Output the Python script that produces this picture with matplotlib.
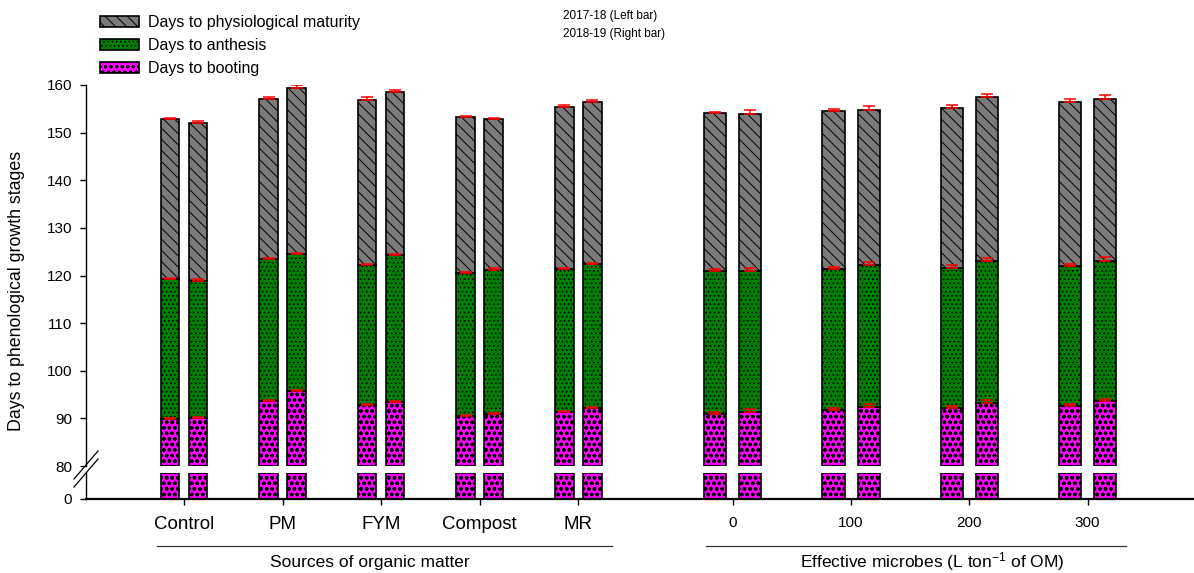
import numpy as np
import matplotlib
matplotlib.use("Agg")
import matplotlib.pyplot as plt
from matplotlib.patches import Patch
from matplotlib.lines import Line2D

plt.rcParams['font.family'] = ['Liberation Sans', 'DejaVu Sans']
plt.rcParams['mathtext.fontset'] = 'custom'
plt.rcParams['mathtext.rm'] = 'Liberation Sans'
plt.rcParams['mathtext.default'] = 'regular'
plt.rcParams['hatch.linewidth'] = 0.7

# categories
source_labels = ["Control", "PM", "FYM", "Compost", "MR"]
microbe_labels = ["0", "100", "200", "300"]

# cumulative days (top of each stacked segment), left bar = 2017-18, right bar = 2018-19
boot_1718 = [89.9, 93.6, 92.9, 90.5, 91.3, 90.9, 91.75, 92.2, 92.65]
boot_1819 = [90.1, 95.7, 93.5, 90.9, 92.2, 91.3, 92.45, 93.3, 93.6]
anth_1718 = [119.2, 123.5, 122.2, 120.6, 121.4, 120.9, 121.4, 121.6, 122.05]
anth_1819 = [118.9, 124.5, 124.4, 121.2, 122.35, 120.9, 122.2, 123.0, 123.1]
mat_1718 = [152.9, 157.0, 156.9, 153.3, 155.3, 154.2, 154.5, 155.2, 156.4]
mat_1819 = [152.0, 159.4, 158.5, 152.9, 156.5, 154.0, 154.7, 157.5, 157.1]

# standard errors
boot_err_1718 = [0.2, 0.2, 0.2, 0.2, 0.2, 0.4, 0.4, 0.5, 0.35]
boot_err_1819 = [0.2, 0.2, 0.2, 0.3, 0.2, 0.6, 0.5, 0.55, 0.4]
anth_err_1718 = [0.2, 0.2, 0.2, 0.2, 0.2, 0.4, 0.4, 0.5, 0.4]
anth_err_1819 = [0.3, 0.2, 0.2, 0.3, 0.3, 0.6, 0.7, 0.6, 0.7]
mat_err_1718 = [0.2, 0.4, 0.5, 0.15, 0.4, 0.2, 0.5, 0.5, 0.6]
mat_err_1819 = [0.5, 0.55, 0.5, 0.2, 0.4, 0.7, 0.8, 0.7, 0.9]

W, H = 1194, 573
fig = plt.figure(figsize=(W / 100, H / 100), dpi=100)

def box(x0, y0, x1, y1):
    # pixel box (top-left origin) -> figure fraction
    return [x0 / W, 1 - y1 / H, (x1 - x0) / W, (y1 - y0) / H]

ax = fig.add_axes(box(86, 85, 1194, 466))
axb = fig.add_axes(box(86, 473, 1194, 499))

# x positions: sources spaced 1, microbes spaced 1.2 after a gap
xs = np.concatenate([np.arange(5), 5.57 + 1.2 * np.arange(4)])
width = np.array([0.19] * 5 + [0.225] * 4)
off = np.array([0.142] * 5 + [0.178] * 4)

mat_style = dict(color="#7a7a7a", edgecolor="black", hatch="\\\\\\", linewidth=1.2)
anth_style = dict(color="#008000", edgecolor="black", hatch="....", linewidth=1.2)
boot_style = dict(color="#FF00FF", edgecolor="black", hatch="ooo", linewidth=1.2)
boot_hatch_lw = 1.0

low_lo, low_hi = 80, 160
stub_top = 5

series = [
    (-off, boot_1718, anth_1718, mat_1718, boot_err_1718, anth_err_1718, mat_err_1718),
    (off, boot_1819, anth_1819, mat_1819, boot_err_1819, anth_err_1819, mat_err_1819),
]
for sign_off, boot, anth, mat, be, ae, me in series:
    x = xs + sign_off
    boot = np.array(boot); anth = np.array(anth); mat = np.array(mat)
    with plt.rc_context({'hatch.linewidth': boot_hatch_lw}):
        ax.bar(x, boot - low_lo, width, bottom=low_lo, **boot_style)
        axb.bar(x, np.minimum(boot, stub_top), width, **boot_style)
    ax.bar(x, anth - boot, width, bottom=boot, **anth_style)
    ax.bar(x, mat - anth, width, bottom=anth, **mat_style)
    for top, err in [(boot, be), (anth, ae), (mat, me)]:
        ax.errorbar(x, top, yerr=[np.zeros(len(err)), err], fmt="none",
                    ecolor="red", elinewidth=1.1, capsize=4.5, capthick=1.1)

ax.set_ylim(low_lo, low_hi)
ax.set_yticks(np.arange(80, 161, 10))
axb.set_ylim(0, stub_top)
axb.set_yticks([0])
for a in (ax, axb):
    a.set_xlim(-0.995, 10.25)
    a.spines['top'].set_visible(False)
    a.spines['right'].set_visible(False)
    a.tick_params(axis='y', direction='out', length=4, width=1, labelsize=11, pad=6)
ax.spines['bottom'].set_visible(False)
ax.tick_params(axis='x', bottom=False, labelbottom=False)
ax.spines['left'].set_linewidth(1.0)
axb.spines['left'].set_linewidth(1.0)
axb.spines['bottom'].set_linewidth(1.6)

axb.set_xticks(xs)
axb.set_xticklabels(source_labels + microbe_labels)
axb.tick_params(axis='x', direction='out', length=4, width=1, pad=8)
for lab, size in zip(axb.get_xticklabels(), [13.5] * 5 + [11] * 4):
    lab.set_fontsize(size)

fig.text(17 / W, 1 - 291 / H, "Days to phenological growth stages", rotation=90,
         ha='center', va='center', fontsize=12.8)

# axis break marks
for dy in (0, 8):
    fig.add_artist(Line2D([74 / W, 98 / W], [1 - (487 - dy) / H, 1 - (459 - dy) / H],
                          color="black", linewidth=0.9))

# group underlines and labels
fig.add_artist(Line2D([157 / W, 612 / W], [1 - 546 / H] * 2, color="#333333", linewidth=0.9))
fig.add_artist(Line2D([706 / W, 1126 / W], [1 - 546 / H] * 2, color="#333333", linewidth=0.9))
fig.text(370 / W, 1 - 562 / H, "Sources of organic matter", ha='center', va='center', fontsize=12.5)
fig.text(932 / W, 1 - 562 / H, "Effective microbes (L ton$^{-1}$ of OM)", ha='center',
         va='center', fontsize=12.5)

fig.text(563 / W, 1 - 16 / H, "2017-18 (Left bar)", ha='left', va='center', fontsize=8.5)
fig.text(563 / W, 1 - 34 / H, "2018-19 (Right bar)", ha='left', va='center', fontsize=8.5)

handles = []
for s in (mat_style, anth_style, boot_style):
    lw = boot_hatch_lw if s is boot_style else 0.7
    with plt.rc_context({'hatch.linewidth': lw}):
        handles.append(Patch(facecolor=s["color"], edgecolor="black", hatch=s["hatch"],
                             linewidth=1.2))
fig.legend(handles, ["Days to physiological maturity", "Days to anthesis", "Days to booting"],
           loc='upper left', bbox_to_anchor=(89 / W, 1 - 4 / H), frameon=False,
           fontsize=11.5, handlelength=2.4, handleheight=0.75, labelspacing=0.5,
           handletextpad=0.6, borderpad=0.2)

fig.savefig("out.png", dpi=100)
